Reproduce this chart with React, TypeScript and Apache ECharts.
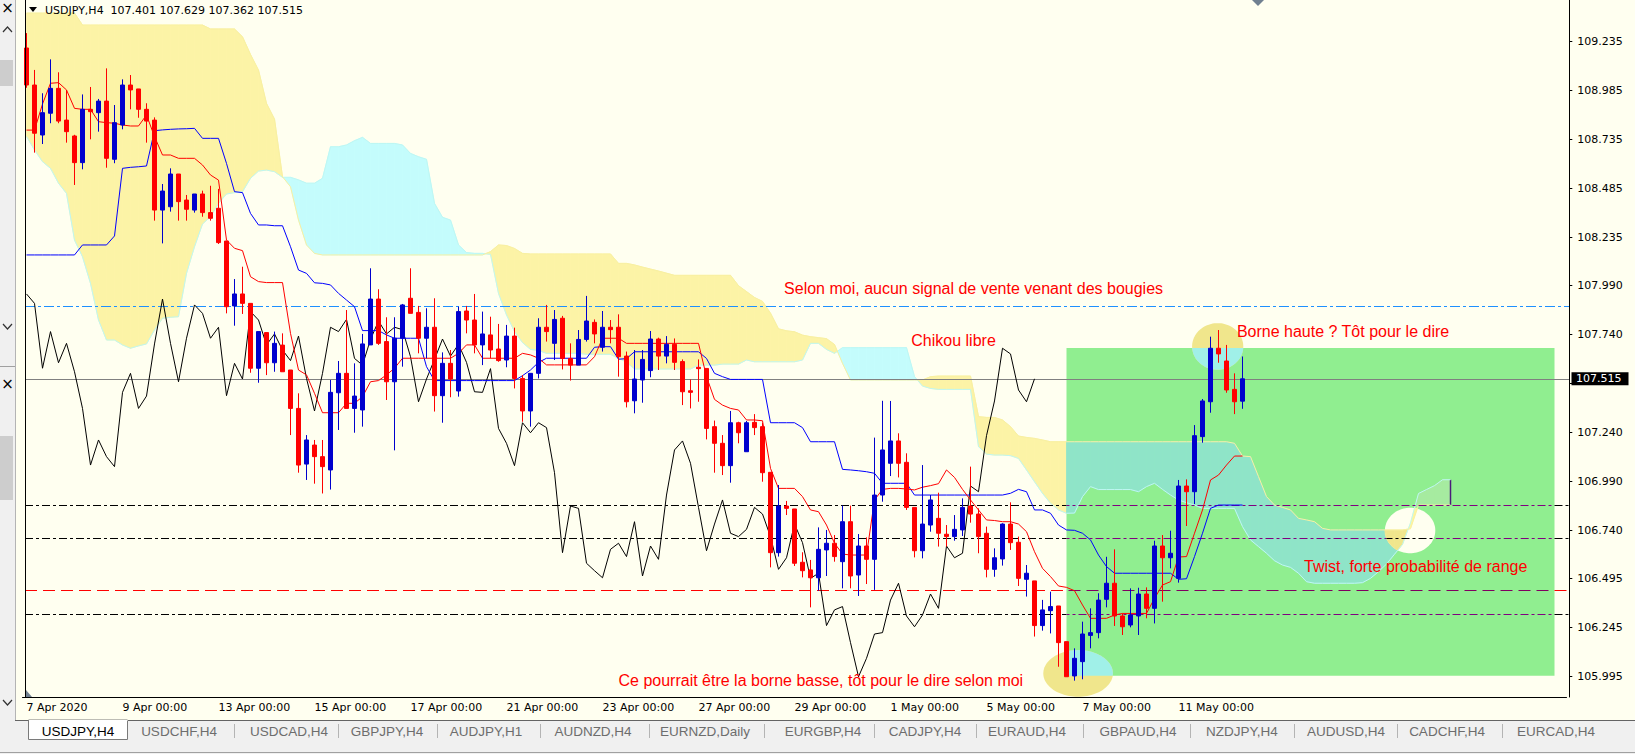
import { useEffect, useRef } from 'react'
import * as echarts from 'echarts'

const W = 1635
const H = 754

// USDJPY H4, first bar 7 Apr 2020 00:00, last bar 12 May 2020 08:00
const opens = [
  109.203, 109.014, 108.759, 108.87, 108.997, 108.835, 108.754, 108.618, 108.89, 108.873,
  108.932, 108.635, 108.81, 109.014, 108.994, 108.89, 108.835, 108.376, 108.393, 108.56,
  108.427, 108.376, 108.458, 108.363, 108.385, 108.218, 107.887, 107.948, 107.9, 107.569,
  107.751, 107.597, 107.687, 107.56, 107.364, 107.08, 107.177, 107.118, 107.05, 107.444,
  107.543, 107.364, 107.356, 107.688, 107.922, 107.705, 107.5, 107.722, 107.926, 107.854,
  107.722, 107.778, 107.429, 107.594, 107.453, 107.861, 107.815, 107.688, 107.739, 107.667,
  107.611, 107.733, 107.517, 107.351, 107.543, 107.778, 107.696, 107.824, 107.619, 107.585,
  107.716, 107.803, 107.676, 107.778, 107.778, 107.631, 107.403, 107.509, 107.557, 107.718,
  107.631, 107.691, 107.603, 107.454, 107.574, 107.568, 107.271, 107.186, 107.072, 107.291,
  107.143, 107.293, 107.271, 107.038, 106.628, 106.866, 106.851, 106.579, 106.54, 106.5,
  106.642, 106.676, 106.582, 106.786, 106.514, 106.662, 106.594, 106.922, 107.084, 107.198,
  107.089, 106.859, 106.638, 106.769, 106.803, 106.722, 106.71, 106.744, 106.866, 106.825,
  106.727, 106.543, 106.596, 106.774, 106.681, 106.492, 106.484, 106.256, 106.332, 106.356,
  106.174, 105.999, 106.072, 106.206, 106.22, 106.39, 106.472, 106.305, 106.259, 106.305,
  106.417, 106.344, 106.662, 106.602, 106.497, 106.968, 106.939, 107.22, 107.398, 107.671,
  107.606, 107.461, 107.401,
]
const highs = [
  109.279, 109.091, 108.972, 109.145, 109.079, 108.989, 108.76, 108.966, 109.004, 108.943,
  109.099, 108.912, 109.043, 109.065, 108.994, 108.921, 108.849, 108.509, 108.589, 108.56,
  108.453, 108.458, 108.475, 108.5, 108.484, 108.218, 108.024, 108.087, 107.9, 107.756,
  107.751, 107.756, 107.747, 107.56, 107.441, 107.228, 107.203, 107.203, 107.509, 107.606,
  107.866, 107.594, 107.744, 108.079, 107.972, 107.829, 107.829, 107.897, 108.079, 107.887,
  107.875, 107.926, 107.65, 107.662, 107.883, 107.887, 107.948, 107.858, 107.832, 107.795,
  107.79, 107.776, 107.534, 107.543, 107.824, 107.892, 107.866, 107.836, 107.696, 107.764,
  107.938, 107.818, 107.861, 107.815, 107.844, 107.654, 107.662, 107.662, 107.759, 107.725,
  107.733, 107.721, 107.614, 107.512, 107.614, 107.568, 107.302, 107.228, 107.351, 107.296,
  107.3, 107.335, 107.291, 107.038, 106.973, 106.892, 106.851, 106.63, 106.591, 106.757,
  106.744, 106.718, 106.868, 106.868, 106.723, 106.706, 107.215, 107.403, 107.402, 107.237,
  107.135, 106.859, 107.075, 106.922, 106.934, 106.769, 106.82, 106.905, 107.067, 106.854,
  106.761, 106.65, 106.778, 106.885, 106.71, 106.565, 106.484, 106.387, 106.429, 106.356,
  106.174, 106.14, 106.276, 106.344, 106.421, 106.607, 106.645, 106.318, 106.446, 106.449,
  106.451, 106.689, 106.718, 106.74, 106.999, 107.002, 107.279, 107.412, 107.73, 107.764,
  107.688, 107.543, 107.629,
]
const lows = [
  109.0, 108.669, 108.713, 108.819, 108.819, 108.72, 108.504, 108.584, 108.737, 108.776,
  108.592, 108.615, 108.788, 108.89, 108.847, 108.72, 108.322, 108.206, 108.368, 108.322,
  108.322, 108.363, 108.342, 108.322, 108.203, 107.849, 107.786, 107.846, 107.546, 107.495,
  107.534, 107.551, 107.551, 107.228, 107.036, 106.999, 106.98, 106.93, 106.95, 107.254,
  107.364, 107.24, 107.271, 107.688, 107.688, 107.407, 107.15, 107.577, 107.849, 107.645,
  107.619, 107.348, 107.291, 107.421, 107.424, 107.747, 107.645, 107.585, 107.619, 107.602,
  107.574, 107.466, 107.296, 107.271, 107.517, 107.705, 107.611, 107.563, 107.506, 107.585,
  107.705, 107.696, 107.654, 107.696, 107.526, 107.369, 107.339, 107.393, 107.523, 107.56,
  107.594, 107.56, 107.381, 107.364, 107.398, 107.206, 107.036, 107.024, 106.985, 107.186,
  107.143, 107.228, 106.99, 106.553, 106.608, 106.82, 106.56, 106.502, 106.349, 106.434,
  106.509, 106.582, 106.446, 106.446, 106.407, 106.468, 106.438, 106.888, 107.019, 107.012,
  106.846, 106.604, 106.599, 106.735, 106.659, 106.659, 106.689, 106.713, 106.781, 106.625,
  106.502, 106.505, 106.562, 106.642, 106.458, 106.404, 106.2, 106.23, 106.216, 106.046,
  105.995, 105.975, 105.982, 106.14, 106.191, 106.349, 106.254, 106.208, 106.247, 106.208,
  106.293, 106.267, 106.378, 106.548, 106.475, 106.764, 106.876, 107.189, 107.342, 107.597,
  107.444, 107.335, 107.362,
]
const closes = [
  109.014, 108.768, 108.873, 108.997, 108.83, 108.776, 108.618, 108.89, 108.878, 108.932,
  108.64, 108.822, 109.014, 108.989, 108.89, 108.83, 108.376, 108.473, 108.56, 108.419,
  108.38, 108.458, 108.363, 108.334, 108.21, 107.883, 107.948, 107.9, 107.569, 107.756,
  107.597, 107.696, 107.551, 107.364, 107.075, 107.203, 107.118, 107.067, 107.446, 107.543,
  107.364, 107.427, 107.693, 107.922, 107.696, 107.5, 107.722, 107.892, 107.849, 107.722,
  107.778, 107.429, 107.594, 107.514, 107.858, 107.815, 107.688, 107.744, 107.662, 107.608,
  107.733, 107.517, 107.351, 107.543, 107.778, 107.756, 107.818, 107.619, 107.585, 107.716,
  107.81, 107.744, 107.778, 107.766, 107.628, 107.398, 107.514, 107.614, 107.718, 107.631,
  107.691, 107.599, 107.449, 107.446, 107.567, 107.262, 107.186, 107.072, 107.291, 107.24,
  107.291, 107.266, 107.036, 106.628, 106.866, 106.854, 106.574, 106.536, 106.5, 106.645,
  106.676, 106.608, 106.786, 106.509, 106.662, 106.594, 106.922, 107.152, 107.198, 107.084,
  106.859, 106.638, 106.774, 106.897, 106.727, 106.71, 106.747, 106.859, 106.825, 106.71,
  106.543, 106.602, 106.774, 106.679, 106.497, 106.523, 106.256, 106.336, 106.353, 106.169,
  105.995, 106.089, 106.213, 106.22, 106.386, 106.472, 106.305, 106.25, 106.31, 106.417,
  106.344, 106.662, 106.602, 106.625, 106.968, 106.939, 107.225, 107.402, 107.671, 107.642,
  107.458, 107.398, 107.515,
]

// Ichimoku lines
const tenkan = [
  108.784, 108.784, 108.917, 109.023, 109.026, 108.989, 108.895, 108.89, 108.89, 108.827,
  108.822, 108.819, 108.81, 108.805, 108.805, 108.861, 108.751, 108.657, 108.657, 108.64,
  108.64, 108.64, 108.606, 108.555, 108.529, 108.223, 108.181, 108.169, 108.036, 108.011,
  108.006, 108.006, 108.006, 107.747, 107.56, 107.535, 107.441, 107.342, 107.342, 107.342,
  107.39, 107.39, 107.424, 107.5, 107.506, 107.535, 107.569, 107.62, 107.62, 107.62,
  107.62, 107.62, 107.62, 107.62, 107.645, 107.688, 107.688, 107.62, 107.62, 107.62,
  107.62, 107.62, 107.645, 107.637, 107.62, 107.586, 107.586, 107.586, 107.586, 107.586,
  107.586, 107.628, 107.722, 107.722, 107.722, 107.696, 107.696, 107.696, 107.696, 107.696,
  107.696, 107.696, 107.696, 107.696, 107.696, 107.526, 107.41, 107.381, 107.364, 107.356,
  107.305, 107.305, 107.301, 107.058, 106.956, 106.956, 106.956, 106.914, 106.846, 106.837,
  106.769, 106.676, 106.621, 106.616, 106.616, 106.616, 106.897, 106.951, 106.956, 106.956,
  106.953, 106.948, 106.962, 106.97, 106.98, 107.05, 107.012, 106.951, 106.897, 106.846,
  106.795, 106.792, 106.786, 106.786, 106.774, 106.735, 106.633, 106.548, 106.506, 106.458,
  106.451, 106.434, 106.361, 106.293, 106.293, 106.293, 106.31, 106.318, 106.318, 106.318,
  106.318, 106.395, 106.463, 106.48, 106.606, 106.608, 106.727, 106.846, 106.999, 107.024,
  107.075, 107.121, 107.121,
]
const kijun = [
  108.147, 108.147, 108.147, 108.147, 108.147, 108.147, 108.147, 108.198, 108.198, 108.198,
  108.198, 108.244, 108.589, 108.594, 108.597, 108.601, 108.781, 108.785, 108.788, 108.79,
  108.791, 108.793, 108.742, 108.742, 108.742, 108.614, 108.47, 108.465, 108.359, 108.3,
  108.3, 108.296, 108.296, 108.189, 108.07, 108.053, 108.005, 108.002, 107.994, 107.951,
  107.917, 107.883, 107.761, 107.761, 107.761, 107.739, 107.722, 107.722, 107.722, 107.722,
  107.577, 107.506, 107.506, 107.506, 107.506, 107.506, 107.506, 107.506, 107.506, 107.506,
  107.506, 107.506, 107.531, 107.56, 107.599, 107.62, 107.62, 107.62, 107.62, 107.62,
  107.62, 107.676, 107.679, 107.679, 107.615, 107.618, 107.653, 107.653, 107.653, 107.653,
  107.653, 107.653, 107.653, 107.653, 107.653, 107.619, 107.543, 107.526, 107.512, 107.512,
  107.512, 107.512, 107.512, 107.291, 107.291, 107.291, 107.291, 107.266, 107.194, 107.194,
  107.194, 107.194, 107.053, 107.05, 107.046, 107.041, 107.033, 106.982, 106.982, 106.982,
  106.982, 106.922, 106.922, 106.922, 106.922, 106.922, 106.922, 106.922, 106.922, 106.922,
  106.922, 106.922, 106.922, 106.931, 106.951, 106.939, 106.846, 106.846, 106.829, 106.769,
  106.744, 106.742, 106.727, 106.693, 106.616, 106.557, 106.523, 106.523, 106.523, 106.523,
  106.523, 106.523, 106.523, 106.523, 106.492, 106.495, 106.608, 106.727, 106.854, 106.871,
  106.871, 106.871, 106.871,
]
// senkou spans, running 26 bars past the last candle
const senkouA = [
  108.751, 108.683, 108.623, 108.589, 108.513, 108.461, 108.223, 108.138, 108.002, 107.815,
  107.713, 107.713, 107.688, 107.671, 107.683, 107.693, 107.764, 107.824, 107.829, 107.832,
  108.053, 108.189, 108.305, 108.342, 108.41, 108.458, 108.465, 108.47, 108.538, 108.575,
  108.58, 108.572, 108.543, 108.543, 108.53, 108.513, 108.513, 108.538, 108.699, 108.699,
  108.708, 108.73, 108.747, 108.716, 108.716, 108.716, 108.716, 108.708, 108.665, 108.648,
  108.635, 108.41, 108.339, 108.325, 108.198, 108.159, 108.155, 108.155, 108.15, 107.951,
  107.841, 107.756, 107.7, 107.665, 107.66, 107.645, 107.645, 107.645, 107.645, 107.645,
  107.64, 107.64, 107.64, 107.64, 107.62, 107.6, 107.565, 107.565, 107.565, 107.565,
  107.565, 107.565, 107.565, 107.565, 107.585, 107.585, 107.585, 107.59, 107.59, 107.59,
  107.611, 107.602, 107.602, 107.602, 107.602, 107.602, 107.602, 107.611, 107.696, 107.696,
  107.665, 107.645, 107.674, 107.674, 107.674, 107.674, 107.674, 107.674, 107.674, 107.674,
  107.674, 107.526, 107.478, 107.466, 107.461, 107.461, 107.461, 107.461, 107.461, 107.169,
  107.131, 107.126, 107.126, 107.123, 107.109, 107.05, 106.99, 106.931, 106.88, 106.846,
  106.829, 106.83, 106.914, 106.965, 106.95, 106.95, 106.95, 106.95, 106.95, 106.939,
  106.965, 106.982, 106.951, 106.922, 106.897, 106.883, 106.871, 106.854, 106.854, 106.854,
  106.854, 106.854, 106.761, 106.693, 106.659, 106.625, 106.587, 106.565, 106.553, 106.523,
  106.48, 106.472, 106.472, 106.472, 106.472, 106.472, 106.472, 106.475, 106.497, 106.531,
  106.57, 106.62, 106.67, 106.78, 106.93, 106.95, 106.97, 107.0, 107.0,
]
const senkouB = [
  109.381, 109.381, 109.381, 109.381, 109.381, 109.381, 109.381, 109.32, 109.32, 109.32,
  109.32, 109.32, 109.32, 109.32, 109.32, 109.32, 109.32, 109.32, 109.32, 109.32,
  109.32, 109.32, 109.32, 109.3, 109.3, 109.3, 109.3, 109.26, 109.17, 109.09,
  108.92, 108.84, 108.546, 108.495, 108.325, 108.198, 108.155, 108.147, 108.147, 108.147,
  108.147, 108.147, 108.147, 108.147, 108.147, 108.147, 108.147, 108.147, 108.147, 108.147,
  108.147, 108.147, 108.147, 108.147, 108.147, 108.147, 108.147, 108.147, 108.164, 108.198,
  108.195, 108.18, 108.155, 108.152, 108.152, 108.152, 108.152, 108.152, 108.152, 108.152,
  108.152, 108.152, 108.152, 108.152, 108.104, 108.104, 108.096, 108.085, 108.075, 108.065,
  108.054, 108.043, 108.043, 108.043, 108.043, 108.043, 108.043, 108.043, 108.043, 107.99,
  107.96, 107.93, 107.91, 107.85, 107.77, 107.76, 107.755, 107.738, 107.73, 107.725,
  107.72, 107.69, 107.594, 107.509, 107.509, 107.509, 107.509, 107.509, 107.509, 107.509,
  107.509, 107.509, 107.509, 107.526, 107.529, 107.529, 107.529, 107.529, 107.529, 107.322,
  107.318, 107.318, 107.305, 107.271, 107.223, 107.216, 107.211, 107.203, 107.194, 107.194,
  107.194, 107.194, 107.194, 107.194, 107.194, 107.194, 107.194, 107.194, 107.194, 107.194,
  107.194, 107.194, 107.194, 107.194, 107.194, 107.194, 107.194, 107.194, 107.194, 107.194,
  107.194, 107.186, 107.121, 107.118, 107.016, 106.914, 106.871, 106.859, 106.846, 106.803,
  106.795, 106.786, 106.752, 106.744, 106.744, 106.744, 106.744, 106.744, 106.744, 106.744,
  106.744, 106.744, 106.744, 106.75, 106.871, 106.871, 106.871, 106.871, 106.871,
]
const chikou = closes.slice(26)

const timeLabels = [
  '7 Apr 2020', '9 Apr 00:00', '13 Apr 00:00', '15 Apr 00:00', '17 Apr 00:00', '21 Apr 00:00',
  '23 Apr 00:00', '27 Apr 00:00', '29 Apr 00:00', '1 May 00:00', '5 May 00:00', '7 May 00:00',
  '11 May 00:00',
]
const priceTicks = [
  109.235, 108.985, 108.735, 108.485, 108.235, 107.99, 107.74, 107.49, 107.24, 106.99,
  106.74, 106.495, 106.245, 105.995,
]
// 107.490 sits under the current-price box, so it gets a tick but no label
const priceLabels = priceTicks.filter((v) => v !== 107.49)

// horizontal levels
const levelPrices = [107.885, 106.87, 106.701, 106.436, 106.314]
const levelKinds = ['blue', 'black', 'black', 'red', 'black']

// green range box (bar index, price)
const zoneBars = [130, 191]
const zonePrices = [106.0, 107.672]

const ellipses = [
  { bars: [145.7, 152.1], prices: [107.799, 107.561], white: false },
  { bars: [127.1, 135.8], prices: [106.131, 105.893], white: false },
  { bars: [169.8, 176.1], prices: [106.857, 106.625], white: true },
]

const notes = [
  { text: 'Selon moi, aucun signal de vente venant des bougies', bar: 94.7, price: 107.978 },
  { text: 'Chikou libre', bar: 110.6, price: 107.713 },
  { text: 'Borne haute ? Tôt pour le dire', bar: 151.3, price: 107.755 },
  { text: 'Twist, forte probabilité de range', bar: 159.7, price: 106.556 },
  { text: 'Ce pourrait être la borne basse, tôt pour le dire selon moi', bar: 74.0, price: 105.978 },
]

const tabNames = [
  'USDJPY,H4', 'USDCHF,H4', 'USDCAD,H4', 'GBPJPY,H4', 'AUDJPY,H1', 'AUDNZD,H4', 'EURNZD,Daily',
  'EURGBP,H4', 'CADJPY,H4', 'EURAUD,H4', 'GBPAUD,H4', 'NZDJPY,H4', 'AUDUSD,H4', 'CADCHF,H4', 'EURCAD,H4',
]
const tabCenters = [78, 179, 289, 387, 486, 593, 705, 823, 925, 1027, 1138, 1242, 1346, 1447, 1556]

const SLOTS = 193
const LABEL_STEP = 12
const Y_MIN = 105.8916
const Y_MAX = 109.4478
const PLOT_L = 25
const PLOT_R = 1569
const FONT_UI = 'DejaVu Sans'
const FONT_NOTE = 'Liberation Sans'
const IVORY = '#FFFFF0'
const KUMO = { bearOut: '#FCF3A6', bullOut: '#C4FCFC', bearIn: '#8FE4C8', bullIn: '#A6EBA0' }
const LEVEL_STYLE: Record<string, { color: string; inZone: string; dash: number[] }> = {
  blue: { color: '#1E90FF', inZone: '#1E90FF', dash: [10, 3, 3, 3] },
  black: { color: '#000000', inZone: '#800080', dash: [8, 3, 3, 3] },
  red: { color: '#FF0000', inZone: '#800060', dash: [12, 6] },
}

type Pt = number[]

function kumoPieces(i: number, coord: (b: number, p: number) => Pt) {
  const a0 = senkouA[i], b0 = senkouB[i], a1 = senkouA[i + 1], b1 = senkouB[i + 1]
  const pa0 = coord(i, a0), pb0 = coord(i, b0), pa1 = coord(i + 1, a1), pb1 = coord(i + 1, b1)
  const d0 = a0 - b0
  const d1 = a1 - b1
  if (d0 * d1 >= 0) return [{ pts: [pa0, pa1, pb1, pb0], bull: d0 + d1 > 0 }]
  const t = d0 / (d0 - d1)
  const x = [pa0[0] + t * (pa1[0] - pa0[0]), pa0[1] + t * (pa1[1] - pa0[1])]
  return [
    { pts: [pa0, x, pb0], bull: d0 > 0 },
    { pts: [x, pa1, pb1], bull: d1 > 0 },
  ]
}

// Sutherland-Hodgman against a convex polygon
function clipConvex(subject: Pt[], clip: Pt[]): Pt[] {
  let area = 0
  for (let i = 0; i < clip.length; i++) {
    const a = clip[i], b = clip[(i + 1) % clip.length]
    area += a[0] * b[1] - b[0] * a[1]
  }
  const s = area > 0 ? 1 : -1
  let out = subject
  for (let i = 0; i < clip.length && out.length; i++) {
    const a = clip[i], b = clip[(i + 1) % clip.length]
    const side = (p: Pt) => s * ((b[0] - a[0]) * (p[1] - a[1]) - (b[1] - a[1]) * (p[0] - a[0]))
    const inp = out
    out = []
    for (let j = 0; j < inp.length; j++) {
      const p = inp[j], q = inp[(j + 1) % inp.length]
      const sp = side(p), sq = side(q)
      if (sp >= 0) out.push(p)
      if (sp >= 0 !== sq >= 0) {
        const t = sp / (sp - sq)
        out.push([p[0] + t * (q[0] - p[0]), p[1] + t * (q[1] - p[1])])
      }
    }
  }
  return out
}

function baseOption(): any {
  const labelAt = (index: number) => index % LABEL_STEP === 0 && index / LABEL_STEP < timeLabels.length
  return {
    animation: false,
    backgroundColor: IVORY,
    grid: { left: 22.5, top: 0, width: 1544, height: 697 },
    xAxis: {
      type: 'category',
      data: Array.from({ length: SLOTS }, (_, i) => 'b' + i),
      boundaryGap: true,
      axisLine: { lineStyle: { color: '#000', width: 1 } },
      axisTick: { alignWithLabel: true, interval: labelAt, length: 4, lineStyle: { color: '#000' } },
      axisLabel: {
        interval: labelAt,
        formatter: (_: string, index: number) => timeLabels[index / LABEL_STEP] ?? '',
        align: 'left',
        margin: 5,
        color: '#000',
        fontFamily: FONT_UI,
        fontSize: 11,
      },
      splitLine: { show: false },
    },
    yAxis: {
      type: 'value',
      position: 'right',
      offset: 2.8,
      min: Y_MIN,
      max: Y_MAX,
      axisLine: { show: true, lineStyle: { color: '#000' } },
      axisTick: { show: true, length: 3, customValues: priceTicks, lineStyle: { color: '#000' } },
      axisLabel: {
        customValues: priceLabels,
        formatter: (v: number) => v.toFixed(3),
        margin: 8,
        color: '#000',
        fontFamily: FONT_UI,
        fontSize: 11,
      },
      splitLine: { show: false },
    },
    series: [
      {
        type: 'custom',
        name: 'Kumo',
        z: 2,
        clip: true,
        silent: true,
        data: senkouA.slice(0, -1).map((a, i) => [i, a]),
        encode: { x: 0, y: 1 },
        renderItem: (_: any, api: any) => {
          const i = api.value(0)
          const inZone = i >= zoneBars[0]
          const pieces = kumoPieces(i, (b, p) => api.coord([b, p]))
          return {
            type: 'group',
            children: pieces.map((pc) => {
              const fill = pc.bull
                ? inZone ? KUMO.bullIn : KUMO.bullOut
                : inZone ? KUMO.bearIn : KUMO.bearOut
              return { type: 'polygon', shape: { points: pc.pts }, style: { fill, stroke: fill, lineWidth: 0.8 } }
            }),
          }
        },
      },
      {
        type: 'line', name: 'Senkou A', data: senkouA, z: 4, silent: true, symbol: 'none',
        lineStyle: { color: '#BEF7F3', width: 1 },
      },
      {
        type: 'line', name: 'Senkou B', data: senkouB, z: 4, silent: true, symbol: 'none',
        lineStyle: { color: '#F8F0A2', width: 1 },
      },
      {
        type: 'line', name: 'Chikou', data: chikou, z: 6, silent: true, symbol: 'none',
        lineStyle: { color: '#000000', width: 1 },
      },
      {
        type: 'line', name: 'Kijun', data: kijun, z: 6, silent: true, symbol: 'none',
        lineStyle: { color: '#0000FF', width: 1 },
      },
      {
        type: 'line', name: 'Tenkan', data: tenkan, z: 6, silent: true, symbol: 'none',
        lineStyle: { color: '#FF0000', width: 1 },
      },
      {
        type: 'candlestick',
        name: 'USDJPY',
        z: 7,
        silent: true,
        barWidth: 4,
        data: opens.map((o, i) => [o, closes[i], lows[i], highs[i]]),
        itemStyle: {
          color: '#0000CD',
          color0: '#FF0000',
          borderColor: '#0000CD',
          borderColor0: '#FF0000',
          borderWidth: 1,
        },
      },
    ],
  }
}

function buildGraphics(chart: echarts.ECharts): any[] {
  const xAt = (bar: number) => {
    const i = Math.floor(bar)
    const a = chart.convertToPixel({ xAxisIndex: 0 }, i) as unknown as number
    const b = chart.convertToPixel({ xAxisIndex: 0 }, i + 1) as unknown as number
    return a + (bar - i) * (b - a)
  }
  const yAt = (p: number) => chart.convertToPixel({ yAxisIndex: 0 }, p) as unknown as number
  const px = (bar: number, p: number): Pt => [xAt(bar), yAt(p)]
  const els: any[] = []

  // green range box
  const gx0 = xAt(zoneBars[0]), gx1 = xAt(zoneBars[1])
  const gy0 = yAt(zonePrices[1]), gy1 = yAt(zonePrices[0])
  const zoneRect: Pt[] = [[gx0, gy0], [gx1, gy0], [gx1, gy1], [gx0, gy1]]
  els.push({ type: 'rect', z: 1, silent: true, shape: { x: gx0, y: gy0, width: gx1 - gx0, height: gy1 - gy0 }, style: { fill: '#90EE90' } })

  // ellipses
  let hole: { cx: number; cy: number; rx: number; ry: number } | null = null
  for (const e of ellipses) {
    const x0 = xAt(e.bars[0]), x1 = xAt(e.bars[1]), y0 = yAt(e.prices[0]), y1 = yAt(e.prices[1])
    const cx = (x0 + x1) / 2, cy = (y0 + y1) / 2, rx = Math.abs(x1 - x0) / 2, ry = Math.abs(y1 - y0) / 2
    const ring: Pt[] = Array.from({ length: 96 }, (_, k) => {
      const t = (k / 96) * Math.PI * 2
      return [cx + rx * Math.cos(t), cy + ry * Math.sin(t)]
    })
    if (!e.white) {
      els.push({ type: 'polygon', z: 3, silent: true, shape: { points: ring }, style: { fill: '#F0E68C' } })
      const inner = clipConvex(ring, zoneRect)
      if (inner.length > 2) els.push({ type: 'polygon', z: 3, silent: true, shape: { points: inner }, style: { fill: '#A0F0E8' } })
    } else {
      hole = { cx, cy, rx, ry }
      els.push({ type: 'polygon', z: 3, silent: true, shape: { points: ring }, style: { fill: IVORY } })
      for (let i = Math.floor(e.bars[0]) - 1; i <= Math.ceil(e.bars[1]); i++) {
        if (i < 0 || i >= senkouA.length - 1) continue
        for (const pc of kumoPieces(i, px)) {
          const part = clipConvex(pc.pts, ring)
          if (part.length > 2) {
            const fill = pc.bull ? '#FFF59D' : '#F0E68C'
            els.push({ type: 'polygon', z: 3, silent: true, shape: { points: part }, style: { fill, stroke: fill, lineWidth: 0.6 } })
          }
        }
      }
    }
  }

  // end of the cloud
  const lastK = senkouA.length - 1
  els.push({
    type: 'line', z: 4, silent: true,
    shape: { x1: xAt(lastK), y1: yAt(senkouA[lastK]), x2: xAt(lastK), y2: yAt(senkouB[lastK]) },
    style: { stroke: '#4B1C7A', lineWidth: 1.5 },
  })

  // horizontal levels
  levelPrices.forEach((p, k) => {
    const st = LEVEL_STYLE[levelKinds[k]]
    const y = Math.round(yAt(p)) + 0.5
    const segs: { a: number; b: number; c: string }[] = []
    if (y >= gy0 && y <= gy1) {
      segs.push({ a: PLOT_L, b: gx0, c: st.color })
      let cuts: number[] = []
      if (hole && Math.abs(y - hole.cy) < hole.ry) {
        const dx = hole.rx * Math.sqrt(1 - ((y - hole.cy) / hole.ry) ** 2)
        cuts = [hole.cx - dx, hole.cx + dx]
      }
      if (cuts.length) {
        segs.push({ a: gx0, b: cuts[0], c: st.inZone })
        segs.push({ a: cuts[0], b: cuts[1], c: st.color })
        segs.push({ a: cuts[1], b: gx1, c: st.inZone })
      } else {
        segs.push({ a: gx0, b: gx1, c: st.inZone })
      }
      segs.push({ a: gx1, b: PLOT_R, c: st.color })
    } else {
      segs.push({ a: PLOT_L, b: PLOT_R, c: st.color })
    }
    for (const s of segs) {
      els.push({
        type: 'line', z: 5, silent: true,
        shape: { x1: s.a, y1: y, x2: s.b, y2: y },
        style: { stroke: s.c, lineWidth: 1, lineDash: st.dash, lineDashOffset: s.a - PLOT_L },
      })
    }
  })

  // current price line + label
  const last = closes.length - 1
  const yc = yAt(closes[last])
  els.push({ type: 'line', z: 5, silent: true, shape: { x1: PLOT_L, y1: Math.round(yc) + 0.5, x2: PLOT_R, y2: Math.round(yc) + 0.5 }, style: { stroke: '#808080', lineWidth: 1 } })
  els.push({ type: 'rect', z: 12, silent: true, shape: { x: 1571.5, y: yc - 6.5, width: 57, height: 13 }, style: { fill: '#000' } })
  els.push({
    type: 'text', z: 13, silent: true, x: 1576, y: yc,
    style: { text: closes[last].toFixed(3), fill: '#FFF', font: `11px "${FONT_UI}"`, verticalAlign: 'middle' },
  })

  // left edge of the chart
  els.push({ type: 'line', z: 9, silent: true, shape: { x1: 25.5, y1: 0, x2: 25.5, y2: 697 }, style: { stroke: '#000', lineWidth: 1 } })
  els.push({ type: 'polygon', z: 9, silent: true, shape: { points: [[26, 690], [26, 697], [32, 697]] }, style: { fill: '#708090' } })
  els.push({ type: 'polygon', z: 9, silent: true, shape: { points: [[1252, 0], [1264, 0], [1258, 6]] }, style: { fill: '#708090' } })

  // annotations
  for (const n of notes) {
    els.push({
      type: 'text', z: 10, silent: true, x: xAt(n.bar), y: yAt(n.price),
      style: { text: n.text, fill: '#FF0000', font: `16px "${FONT_NOTE}"`, verticalAlign: 'middle' },
    })
  }

  // header
  els.push({ type: 'polygon', z: 10, silent: true, shape: { points: [[29, 7], [37, 7], [33, 12]] }, style: { fill: '#000' } })
  const ohlc = [opens[last], highs[last], lows[last], closes[last]].map((v) => v.toFixed(3)).join(' ')
  els.push({
    type: 'text', z: 10, silent: true, x: 45, y: 10,
    style: { text: 'USDJPY,H4  ' + ohlc, fill: '#000', font: `11px "${FONT_UI}"`, verticalAlign: 'middle' },
  })

  // left tool strip
  const chevron = (y: number, up: boolean) => ({
    type: 'polyline', z: 11, silent: true,
    shape: { points: up ? [[3, y + 3], [7.5, y - 2], [12, y + 3]] : [[3, y - 3], [7.5, y + 2], [12, y - 3]] },
    style: { stroke: '#333', lineWidth: 1.2, fill: null },
  })
  els.push({ type: 'rect', z: 11, silent: true, shape: { x: 0, y: 0, width: 15, height: 721 }, style: { fill: '#F0F0F0' } })
  els.push({ type: 'line', z: 11, silent: true, shape: { x1: 15.5, y1: 0, x2: 15.5, y2: 721 }, style: { stroke: '#B4B4B4' } })
  els.push({ type: 'text', z: 11, silent: true, x: 7.5, y: 8, style: { text: '×', fill: '#000', font: `15px "${FONT_UI}"`, align: 'center', verticalAlign: 'middle' } })
  els.push(chevron(29, true))
  els.push({ type: 'rect', z: 11, silent: true, shape: { x: 0, y: 60, width: 13, height: 26 }, style: { fill: '#CDCDCD' } })
  els.push(chevron(327, false))
  els.push({ type: 'line', z: 11, silent: true, shape: { x1: 0, y1: 366.5, x2: 15, y2: 366.5 }, style: { stroke: '#A0A0A0' } })
  els.push({ type: 'text', z: 11, silent: true, x: 7.5, y: 384, style: { text: '×', fill: '#000', font: `15px "${FONT_UI}"`, align: 'center', verticalAlign: 'middle' } })
  els.push({ type: 'rect', z: 11, silent: true, shape: { x: 0, y: 436, width: 13, height: 64 }, style: { fill: '#CDCDCD' } })
  els.push(chevron(703, false))

  // symbol tabs
  els.push({ type: 'rect', z: 11, silent: true, shape: { x: 0, y: 720, width: W, height: H - 720 }, style: { fill: '#F0F0F0' } })
  els.push({ type: 'line', z: 11, silent: true, shape: { x1: 15, y1: 720.5, x2: W, y2: 720.5 }, style: { stroke: '#646464' } })
  els.push({ type: 'line', z: 11, silent: true, shape: { x1: 0, y1: 752.5, x2: W, y2: 752.5 }, style: { stroke: '#A0A0A0' } })
  els.push({ type: 'rect', z: 11, silent: true, shape: { x: 28.5, y: 720, width: 99, height: 19.5 }, style: { fill: '#FFF', stroke: '#7A7A7A', lineWidth: 1 } })
  els.push({ type: 'line', z: 11, silent: true, shape: { x1: 29, y1: 720.5, x2: 127.5, y2: 720.5 }, style: { stroke: '#FFF' } })
  tabNames.forEach((name, k) => {
    els.push({
      type: 'text', z: 12, silent: true, x: tabCenters[k], y: 731,
      style: { text: name, fill: k === 0 ? '#000' : '#6D6D6D', font: `13.5px "${FONT_NOTE}"`, align: 'center', verticalAlign: 'middle' },
    })
    if (k > 0 && k < tabNames.length - 1) {
      const sx = Math.round((tabCenters[k] + tabCenters[k + 1]) / 2) + 0.5
      els.push({ type: 'line', z: 12, silent: true, shape: { x1: sx, y1: 724, x2: sx, y2: 738 }, style: { stroke: '#B4B4B4' } })
    }
  })
  els.push({ type: 'rect', z: 13, silent: true, shape: { x: 1606, y: 721, width: W - 1606, height: 31 }, style: { fill: '#F0F0F0' } })

  return els
}

export default function App() {
  const ref = useRef<HTMLDivElement>(null)

  useEffect(() => {
    document.body.style.margin = '0'
    document.body.style.overflow = 'hidden'
    if (!ref.current) return
    const chart = echarts.init(ref.current, undefined, { renderer: 'svg' })
    chart.setOption(baseOption())
    chart.setOption({ graphic: buildGraphics(chart) })
    return () => {
      chart.dispose()
    }
  }, [])

  return <div ref={ref} style={{ width: W, height: H }} />
}
